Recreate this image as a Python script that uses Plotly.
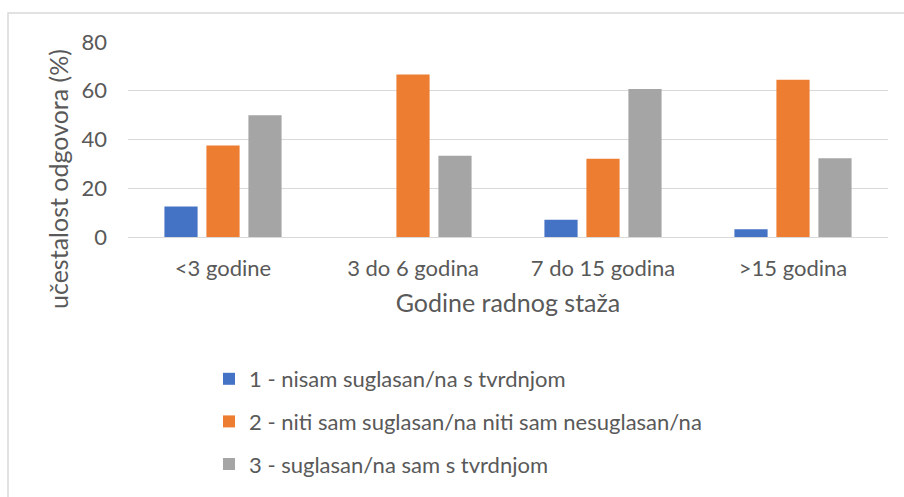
import plotly.graph_objects as go

categories = ["<3 godine", "3 do 6 godina", "7 do 15 godina", ">15 godina"]
series_names = [
    "1 - nisam suglasan/na s tvrdnjom",
    "2 - niti sam suglasan/na niti sam nesuglasan/na",
    "3 - suglasan/na sam s tvrdnjom",
]
s1 = [12.5, 0.0, 7.1, 3.2]
s2 = [37.5, 66.7, 32.1, 64.5]
s3 = [50.0, 33.3, 60.7, 32.3]
colors = ["#4472C4", "#ED7D31", "#A5A5A5"]
y_ticks = [0, 20, 40, 60, 80]

W, H = 904, 497
L, R, T, B = 128, 16, 42, 260
pw, ph = W - L - R, H - T - B

def px(x):
    return (x - L) / pw

def py(y):
    return (H - B - y) / ph

FONT = "Lato"
TXT = "#595959"

fig = go.Figure()
for i, (name, vals) in enumerate(zip(series_names, [s1, s2, s3])):
    fig.add_trace(go.Bar(
        x=categories, y=vals, name=name,
        marker=dict(color=colors[i], line=dict(width=0)),
        legendgroup=f"g{i}",
    ))

fig.update_layout(
    width=W, height=H,
    margin=dict(l=L, r=R, t=T, b=B, autoexpand=False),
    paper_bgcolor="white", plot_bgcolor="white",
    barmode="group", bargap=0.337, bargroupgap=0.21,
    font=dict(family=FONT, color=TXT, size=22),
    showlegend=True,
    legend=dict(
        x=px(209), y=py(358), xanchor="left", yanchor="top",
        font=dict(size=22, color=TXT, family=FONT),
        tracegroupgap=11, bgcolor="rgba(0,0,0,0)",
        itemclick=False,
    ),
    xaxis=dict(
        showgrid=False, showline=True, linecolor="#D9D9D9", linewidth=1,
        ticks="", tickfont=dict(size=22, color=TXT),
        ticklabelstandoff=12,
        title=dict(text="Godine radnog staža", font=dict(size=25, color=TXT), standoff=14),
    ),
    yaxis=dict(
        range=[0, 80], tickvals=y_ticks, showgrid=True, gridcolor="#D9D9D9",
        gridwidth=1, zeroline=False, showline=False, ticks="",
        tickfont=dict(size=22, color=TXT), ticklabelstandoff=20,
    ),
    annotations=[dict(
        text="učestalost odgovora (%)", textangle=-90,
        xref="paper", yref="paper", x=px(58), y=py(179),
        xanchor="center", yanchor="middle", showarrow=False,
        font=dict(size=25, color=TXT, family=FONT),
    )],
    shapes=[
        dict(type="rect", xref="paper", yref="paper",
             x0=px(8), x1=px(960), y0=py(13), y1=py(560),
             line=dict(color="#D9D9D9", width=1.5), fillcolor="rgba(0,0,0,0)",
             layer="below"),
    ],
)

fig.write_html(
    "out.html",
    config={"displayModeBar": False},
    post_script=(
        "document.documentElement.style.overflow='hidden';"
        "document.body.style.margin='0';document.body.style.overflow='hidden';"
    ),
)
